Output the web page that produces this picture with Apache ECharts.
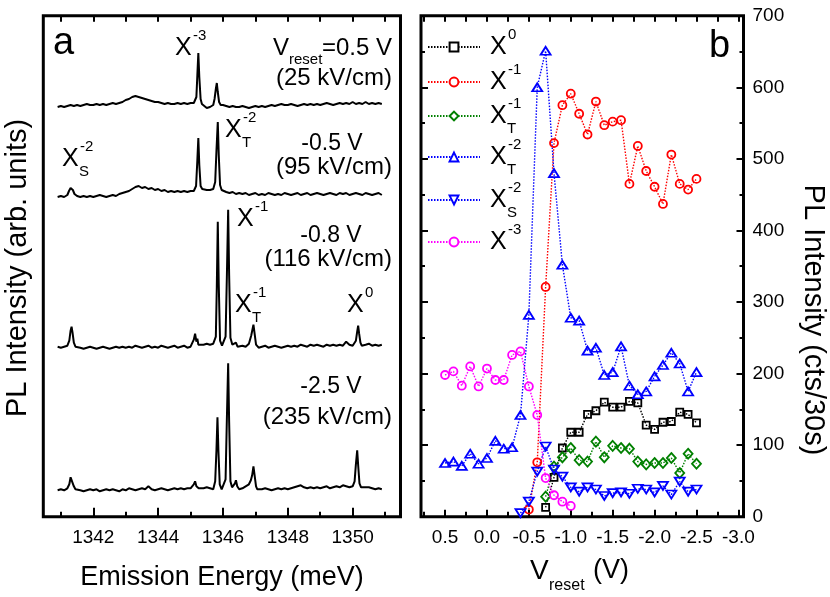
<!DOCTYPE html>
<html>
<head>
<meta charset="utf-8">
<script src="https://cdn.jsdelivr.net/npm/echarts@6/dist/echarts.min.js"></script>
<style>html,body{margin:0;padding:0;background:#fff}#c{width:830px;height:597px}</style>
</head>
<body>
<div id="c"></div>
<script>
// ---------------- Panel a: PL spectra (heights above each trace's baseline, arb. units) ----------------
const gridStart = 1340.9, gridStep = 0.1;   // sampling grid of the traces (meV)
const spectrumOffsets = [411.7, 321.7, 170, 27.4]; // vertical offsets of the four traces
const s1Grid = [-2,-1,-2,-1,0,-1,0,-1,0,1, 0,0,1,0,1,0,1,2,1,2, 3,5,6,8,9,8,7,6,5,4, 3,3,2,1,2,1,1,2,1,2,
  1,2,2,0,0,-1,-3,-2,1,0, 0,0,-1,-2,-1,-2,-2,-1,-2,-3, -2,-1,-2,-1,-2,-1,0,-1,0,1, 0,0,1,0,-1,0,1,0,1,0,
  1,0,1,2,1,0,1,2,1,2, 1,3,1,2,1,3,1,2,1,2, 1];
const s1Peaks = [
  [[1345.14,2],[1345.18,8],[1345.21,30],[1345.24,52],[1345.27,28],[1345.31,6],[1345.35,1]],
  [[1345.70,0],[1345.74,6],[1345.78,16],[1345.81,22],[1345.84,13],[1345.88,3],[1345.93,0]]
];
const s2Grid = [-2,-1,-2,0,0,1,-1,-2,-1,-2, -1,-2,-1,0,-1,-2,-1,0,-1,1, 2,3,4,6,8,9,7,8,6,7, 5,6,4,5,3,4,3,4,3,4,
  3,4,4,0,0,6,5,5,6,0, 0,4,3,2,3,1,2,1,2,0, 1,2,0,1,0,2,1,0,1,0, 2,1,0,1,2,0,1,2,0,1,
  2,1,0,1,2,1,0,2,1,2, 0,1,2,1,0,2,1,0,1,2, 0];
const s2Peaks = [
  [[1341.20,0],[1341.25,4],[1341.30,7],[1341.33,8],[1341.37,5],[1341.42,1]],
  [[1345.13,4],[1345.17,9],[1345.21,35],[1345.24,57],[1345.27,30],[1345.31,9],[1345.36,6]],
  [[1345.72,6],[1345.76,13],[1345.80,45],[1345.84,73],[1345.87,40],[1345.91,10],[1345.96,5]]
];
const s3Grid = [0,-1,0,1,0,0,0,-1,-2,-1, 0,-1,-2,-1,0,-1,-2,-1,0,-1, 0,-1,0,-1,1,0,-1,0,1,-1, 0,-1,1,0,-1,0,1,-1,0,1,
  -1,0,0,0,3,2,3,2,3,0, 0,0,0,0,0,0,0,1,0,3, 0,0,-1,0,1,-1,0,1,0,-1, 0,1,0,1,0,2,1,0,2,1,
  2,1,0,2,1,2,1,2,1,5, 2,1,0,0,3,2,3,1,2,1, 2];
const s3Peaks = [
  [[1341.22,1],[1341.26,6],[1341.30,16],[1341.33,20],[1341.36,14],[1341.40,4],[1341.45,0]],
  [[1345.06,1],[1345.10,7],[1345.14,13],[1345.18,5],[1345.21,8],[1345.24,2]],
  [[1345.74,3],[1345.78,10],[1345.81,60],[1345.84,125],[1345.87,62],[1345.91,6],[1345.97,1],[1346.03,2],[1346.08,10],
   [1346.12,70],[1346.16,137],[1346.19,72],[1346.23,9],[1346.29,2],[1346.35,1],[1346.40,4],[1346.45,0]],
  [[1346.83,5],[1346.87,11],[1346.90,10],[1346.94,22],[1346.98,12],[1347.02,2],[1347.06,0]],
  [[1350.06,1],[1350.10,6],[1350.14,15],[1350.17,21],[1350.20,13],[1350.24,4],[1350.28,1]]
];
const s4Grid = [-1,0,-1,1,0,0,0,-1,-2,-1, 0,-1,0,-2,-1,0,-1,0,-1,-2, 0,-1,1,0,-1,0,1,0,3,0, -1,0,1,0,-1,0,1,0,1,0,
  1,1,0,0,3,1,2,1,0,0, 0,0,0,0,0,0,0,1,3,5, 0,0,1,0,1,0,-1,0,1,0, 1,0,1,2,3,4,2,1,2,1,
  2,1,2,3,1,2,3,2,4,3, 2,3,0,0,0,2,2,1,0,1, 0];
const s4Peaks = [
  [[1341.22,0],[1341.26,5],[1341.30,12],[1341.33,14],[1341.36,10],[1341.40,3],[1341.45,0]],
  [[1345.06,1],[1345.10,5],[1345.14,8],[1345.18,3],[1345.21,5],[1345.25,1]],
  [[1345.72,2],[1345.76,8],[1345.80,40],[1345.83,72],[1345.86,38],[1345.90,5],[1345.96,0],[1346.02,2],[1346.08,10],
   [1346.12,70],[1346.16,126],[1346.19,68],[1346.23,8],[1346.28,2],[1346.33,4],[1346.37,6],[1346.40,9],[1346.44,3],[1346.50,0]],
  [[1346.82,6],[1346.86,9],[1346.90,14],[1346.94,23],[1346.98,13],[1347.02,3],[1347.06,0]],
  [[1350.02,3],[1350.06,8],[1350.10,25],[1350.14,39],[1350.17,24],[1350.21,6],[1350.26,2],[1350.30,1]]
];
const energyMajorTicks = [1342,1344,1346,1348,1350];
const energyMinorTicks = [1341,1343,1345,1347,1349,1351];
const energyAllTicks = [1341,1342,1343,1344,1345,1346,1347,1348,1349,1350,1351];

// ---------------- Panel b: integrated intensities vs V_reset ----------------
const vReset = [0.5,0.4,0.3,0.2,0.1,0.0,-0.1,-0.2,-0.3,-0.4,-0.5,-0.6,-0.7,-0.8,-0.9,-1.0,
  -1.1,-1.2,-1.3,-1.4,-1.5,-1.6,-1.7,-1.8,-1.9,-2.0,-2.1,-2.2,-2.3,-2.4,-2.5];
const n = null;
const X0   = [n,n,n,n,n,n,n,n,n,n,n,n,13,55,96,118,118,143,148,160,153,153,161,159,128,122,132,133,146,143,131];
const Xm1  = [n,n,n,n,n,n,n,n,n,n,10,76,321,522,575,591,563,534,580,547,552,554,465,518,483,461,437,506,465,457,472];
const XTm1 = [n,n,n,n,n,n,n,n,n,n,n,n,28,70,83,96,79,77,105,83,99,96,95,77,73,75,75,82,61,88,74];
const XTm2 = [75,77,71,88,74,82,106,95,97,142,282,600,651,480,352,278,274,232,236,198,202,238,183,171,175,196,212,229,214,175,202];
const XSm2 = [n,n,n,n,n,n,n,n,n,5,21,63,98,66,56,41,35,41,38,29,33,34,32,39,38,34,43,31,49,35,38];
const Xm3  = [198,203,183,210,182,207,191,191,226,231,182,142,54,30,21,15,n,n,n,n,n,n,n,n,n,n,n,n,n,n,n];
const vMajorTicks = [0.5,0.0,-0.5,-1.0,-1.5,-2.0,-2.5,-3.0];
const vMinorTicks = [0.75,0.25,-0.25,-0.75,-1.25,-1.75,-2.25,-2.75];
const vAllTicks = [0.75,0.5,0.25,0.0,-0.25,-0.5,-0.75,-1.0,-1.25,-1.5,-1.75,-2.0,-2.25,-2.5,-2.75,-3.0];
const seriesNames = ['X0','X-1','XT-1','XT-2','XS-2','X-3'];
const seriesValues = [X0, Xm1, XTm1, XTm2, XSm2, Xm3];

// ---------------- styling ----------------
const FF = '"Liberation Sans", Arial, Helvetica, sans-serif';
const seriesColors = ['#000000','#ff0000','#008000','#0000ff','#0000ff','#ff00ff'];
const seriesSymbols = ['rect','circle','diamond','triangle','triangle','circle'];
const seriesSymbolSizes = [7,8,[9,10],[10,8],[10,8],8];
const seriesRot = [0,0,0,0,180,0];
const legendRowY = [47,82,116,157,200,242];
const legendSup = ['0','-1','-1','-2','-2','-3'];
const legendSub = ['','','T','T','S',''];

function buildSpectrum(grid, peaks, offset) {
  const pts = [];
  grid.forEach((h, i) => {
    const e = Math.round((gridStart + i * gridStep) * 100) / 100;
    const inPeak = peaks.some(p => e >= p[0][0] - 1e-6 && e <= p[p.length - 1][0] + 1e-6);
    if (!inPeak) pts.push([e, h + offset]);
  });
  peaks.forEach(p => p.forEach(q => pts.push([q[0], q[1] + offset])));
  pts.sort((a, b) => a[0] - b[0]);
  return pts;
}

const E_MIN = 1340.458, E_MAX = 1351.476;
const V_MIN = -3.061, V_MAX = 0.787;
const tickLS = { color: '#000', width: 2 };

function tickAxis(gridIndex, pos, min, max, ticks, len, labels, inverse, fmt) {
  return {
    gridIndex, type: 'value', position: pos, min, max, inverse: !!inverse,
    axisLine: { show: false, onZero: false }, splitLine: { show: false },
    axisTick: { show: true, inside: true, length: len, lineStyle: tickLS, customValues: ticks },
    axisLabel: labels ? { show: true, customValues: labels, fontSize: 19, fontFamily: FF, color: '#000', margin: 12, formatter: fmt } : { show: false },
    axisPointer: { show: false }
  };
}

const xAxes = [
  tickAxis(0, 'bottom', E_MIN, E_MAX, energyMajorTicks, 9, energyMajorTicks, false, v => String(Math.round(v))),
  tickAxis(0, 'bottom', E_MIN, E_MAX, energyMinorTicks, 5, null),
  tickAxis(0, 'top', E_MIN, E_MAX, energyAllTicks, 6, null),
  tickAxis(1, 'bottom', V_MIN, V_MAX, vMajorTicks, 7, vMajorTicks, true, v => v.toFixed(1)),
  tickAxis(1, 'bottom', V_MIN, V_MAX, vMinorTicks, 5, null, true),
  tickAxis(1, 'top', V_MIN, V_MAX, vAllTicks, 6, null, true)
];

const yRight = {
  gridIndex: 1, type: 'value', position: 'right', min: 0, max: 700, interval: 100,
  axisLine: { show: false, onZero: false }, splitLine: { show: false },
  axisTick: { show: true, inside: true, length: 7, lineStyle: tickLS },
  minorTick: { show: true, splitNumber: 2, length: 4, lineStyle: tickLS },
  axisLabel: { show: true, fontSize: 19, fontFamily: FF, color: '#000', margin: 9, showMinLabel: true, showMaxLabel: true }
};
const yLeftB = JSON.parse(JSON.stringify(yRight));
yLeftB.position = 'left'; yLeftB.axisLabel = { show: false };
const yAxes = [
  { gridIndex: 0, type: 'value', min: 0, max: 501, show: false, axisLine: { onZero: false } },
  yRight, yLeftB
];

const series = [];
[s1Grid, s2Grid, s3Grid, s4Grid].forEach((g, k) => {
  const peaks = [s1Peaks, s2Peaks, s3Peaks, s4Peaks][k];
  series.push({
    type: 'line', xAxisIndex: 0, yAxisIndex: 0, showSymbol: false, silent: true,
    data: buildSpectrum(g, peaks, spectrumOffsets[k]),
    lineStyle: { color: '#000', width: 2 }, animation: false
  });
});
seriesNames.forEach((name, k) => {
  series.push({
    name, type: 'line', xAxisIndex: 3, yAxisIndex: 1,
    data: vReset.map((v, i) => [v, seriesValues[k][i]]).filter(d => d[1] !== null),
    symbol: seriesSymbols[k], symbolSize: seriesSymbolSizes[k], symbolRotate: seriesRot[k],
    color: seriesColors[k],
    itemStyle: { color: 'rgba(255,255,255,0)', borderColor: seriesColors[k], borderWidth: 1.8 },
    lineStyle: { color: seriesColors[k], width: 1.4, type: [1.5, 1.5] },
    animation: false, z: 3
  });
});

const legends = seriesNames.map((name, k) => ({
  data: [name], left: 427, top: legendRowY[k] - 5.5, itemWidth: 52, itemHeight: 11, padding: 0, itemGap: 0,
  formatter: () => '', selectedMode: false, textStyle: { fontSize: 1 },
  itemStyle: { color: '#fff', borderColor: seriesColors[k], borderWidth: 2 }
}));

const graphics = [];
function txt(x, y, s, size, align, rot) {
  graphics.push({ type: 'text', x, y, rotation: rot || 0, z: 100, silent: true,
    style: { text: s, fontSize: size, fontFamily: FF, fill: '#000', align: align || 'left', verticalAlign: 'middle' } });
}
function xLab(left, cy, sup, sub) {
  txt(left, cy, 'X', 25);
  if (sup) txt(left + 18, cy - 12, sup, 15);
  if (sub) txt(left + 17, cy + 13, sub, 15);
}
// panel letters
txt(53, 44, 'a', 38);
txt(709, 47, 'b', 38);
// panel a annotations
xLab(175, 48, '-3');
xLab(225, 130, '-2', 'T');
xLab(62, 159, '-2', 'S');
xLab(237, 219, '-1');
xLab(235, 305, '-1', 'T');
xLab(347, 305, '0');
txt(273, 48, 'V', 24); txt(289, 60, 'reset', 15); txt(322, 48, '=0.5 V', 24);
txt(392, 78, '(25 kV/cm)', 24, 'right');
txt(332, 144, '-0.5 V', 23, 'center'); txt(392, 167, '(95 kV/cm)', 24, 'right');
txt(331, 236, '-0.8 V', 23, 'center'); txt(392, 259, '(116 kV/cm)', 24, 'right');
txt(331, 387, '-2.5 V', 23, 'center'); txt(392, 417, '(235 kV/cm)', 24, 'right');
// legend labels panel b
legendRowY.forEach((y, k) => xLab(490, y, legendSup[k], legendSub[k]));
// axis titles
txt(222, 578, 'Emission Energy (meV)', 27, 'center');
txt(530, 571, 'V', 28); txt(549, 586, 'reset', 16); txt(593, 571, '(V)', 27);
txt(18, 268, 'PL Intensity (arb. units)', 29, 'center', Math.PI / 2);
txt(813, 320, 'PL Intensity (cts/30s)', 29, 'center', -Math.PI / 2);

const chart = echarts.init(document.getElementById('c'), null, { renderer: 'canvas' });
chart.setOption({
  animation: false,
  backgroundColor: '#fff',
  grid: [
    { left: 43.3, top: 15.7, width: 357.2, height: 501, show: true, borderWidth: 3, borderColor: '#000', backgroundColor: 'transparent', containLabel: false, outerBoundsMode: 'none' },
    { left: 421, top: 15.7, width: 322.5, height: 501, show: true, borderWidth: 3, borderColor: '#000', backgroundColor: 'transparent', containLabel: false, outerBoundsMode: 'none' }
  ],
  xAxis: xAxes,
  yAxis: yAxes,
  legend: legends,
  series,
  graphic: graphics
});
</script>
</body>
</html>
